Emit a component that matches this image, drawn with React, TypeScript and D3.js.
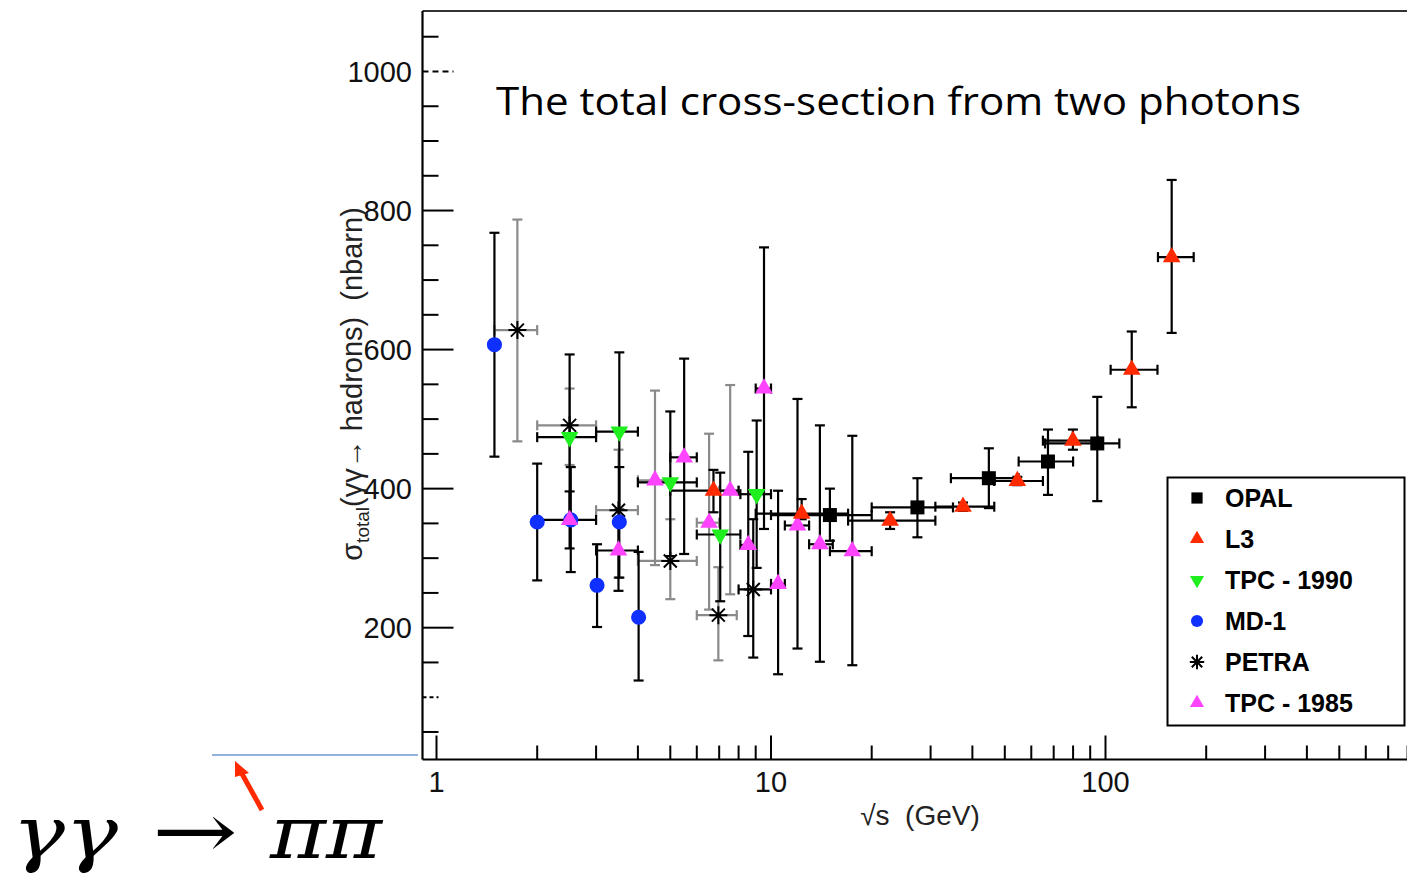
import React from "react";
import * as d3 from "d3";

// each point: [sqrt(s) GeV, sigma nb, xLo, xHi, yLo, yHi]
type Pt = [number, number, number, number, number, number];

const opal: Pt[] = [
  [15.0, 362, 10, 20, 325, 400],
  [27.4, 373, 20, 35, 330, 415],
  [44.8, 415, 34.5, 55, 372, 458],
  [67.3, 439, 55, 80, 391, 485],
  [94.5, 465, 66, 110, 382, 532],
];

const l3: Pt[] = [
  [6.73, 397, 5.0, 8.0, 366, 427],
  [12.35, 364, 9.0, 17, 356, 385],
  [22.7, 354, 17, 31, 342, 366],
  [37.5, 374, 31, 46.5, 368, 380],
  [54.5, 411, 46.5, 65, 405, 417],
  [79.9, 469, 65, 95, 456, 485],
  [119.8, 571, 103.6, 143, 517, 626],
  [157.7, 733, 143.5, 183.5, 624, 844],
];

const tpc1990: Pt[] = [
  [2.5, 474, 2.0, 3.0, 355, 593],
  [3.52, 482, 3.0, 4.0, 370, 596],
  [5.0, 409, 4.0, 6.0, 303, 511],
  [7.05, 334, 6.0, 8.1, 238, 423],
  [9.06, 392, 8.1, 10.0, 286, 498],
];

const md1: Pt[] = [
  [1.49, 607, 1.49, 1.49, 446, 768],
  [2.0, 352, 2.0, 2.0, 268, 436],
  [2.52, 355, 2.52, 2.52, 280, 431],
  [3.02, 261, 3.02, 3.02, 201, 320],
  [3.52, 352, 3.52, 3.52, 272, 431],
  [4.02, 215, 4.02, 4.02, 124, 309],
];

const petra: Pt[] = [
  [1.745, 628, 1.49, 2.0, 468, 787],
  [2.5, 491, 2.0, 3.0, 434, 544],
  [3.5, 369, 3.0, 4.0, 272, 456],
  [5.0, 296, 4.0, 6.0, 241, 356],
  [6.96, 218, 6.0, 7.9, 153, 287],
  [8.85, 255, 8.0, 10.0, 157, 356],
];

const tpc1985: Pt[] = [
  [2.5, 355, 2.0, 3.0, 314, 396],
  [3.5, 311, 3.0, 4.0, 253, 353],
  [4.5, 412, 4.0, 5.0, 290, 541],
  [5.5, 445, 5.0, 6.0, 306, 587],
  [6.53, 351, 6.0, 7.0, 226, 479],
  [7.55, 397, 7.0, 8.0, 248, 549],
  [8.55, 319, 8.1, 8.8, 188, 453],
  [9.53, 544, 9.0, 10.0, 342, 747],
  [10.5, 263, 10.0, 11.0, 133, 397],
  [12.0, 347, 11.0, 13.0, 170, 529],
  [14.0, 320, 13.0, 15.3, 151, 491],
  [17.5, 310, 15.0, 20.0, 146, 476],
];

const seriesNames = ["OPAL", "L3", "TPC - 1990", "MD-1", "PETRA", "TPC - 1985"];
const seriesData: Record<string, Pt[]> = {
  OPAL: opal,
  L3: l3,
  "TPC - 1990": tpc1990,
  "MD-1": md1,
  PETRA: petra,
  "TPC - 1985": tpc1985,
};
// points whose error bars are drawn in grey
const greyBars: Record<string, number[]> = {
  PETRA: [0, 1, 2, 3, 4],
  "TPC - 1985": [2, 4, 5],
};

const yMajorTicks = [200, 400, 600, 800, 1000];
const yMinorTicks = [50, 100, 150, 250, 300, 350, 450, 500, 550, 650, 700, 750, 850, 900, 950, 1050];
const xMajorTicks = [1, 10, 100, 1000];
const xTickLabels = ["1", "10", "100", ""]; // 1000 falls outside the cropped picture

const title = "The total cross-section from two photons";

const styles: Record<string, { color: string; shape: string }> = {
  OPAL: { color: "#000000", shape: "square" },
  L3: { color: "#ff2a00", shape: "up" },
  "TPC - 1990": { color: "#1fee1f", shape: "down" },
  "MD-1": { color: "#1030ff", shape: "circle" },
  PETRA: { color: "#000000", shape: "star" },
  "TPC - 1985": { color: "#ff44ff", shape: "up" },
};

const SANS = "'Liberation Sans', Arial, Helvetica, sans-serif";

const Marker = ({ shape, color, x, y, s = 1 }: any) => {
  if (shape === "star") {
    const a = 9 * s;
    const b = 6.5 * s;
    return (
      <path
        transform={`translate(${x},${y})`}
        d={`M${-a},0L${a},0M0,${-a}L0,${a}M${-b},${-b}L${b},${b}M${-b},${b}L${b},${-b}`}
        stroke="#000"
        strokeWidth={2}
        fill="none"
      />
    );
  }
  let type: any = d3.symbolCircle;
  let size = 180 * s * s;
  let rot = 0;
  if (shape === "square") {
    type = d3.symbolSquare;
    size = 196 * s * s;
  } else if (shape === "up" || shape === "down") {
    type = d3.symbolTriangle;
    size = 135 * s * s;
    rot = shape === "down" ? 180 : 0;
  }
  const d = d3.symbol().type(type).size(size)() as string;
  return <path transform={`translate(${x},${y}) rotate(${rot})`} d={d} fill={color} />;
};

export default function App() {
  const xScale = d3.scaleLog().domain([1, 1000]).range([436.5, 1440]);
  const yScale = d3.scaleLinear().domain([10.4, 1087]).range([759.5, 11]);
  const frameLeft = 422.5;
  const frameTop = 11;
  const frameBottom = 759.5;

  const xMinor: number[] = [];
  [1, 10, 100].forEach((dec) => {
    d3.range(2, 10).forEach((m) => xMinor.push(dec * m));
  });

  const cap = 5;
  const drawOrder = ["PETRA", "MD-1", "TPC - 1985", "TPC - 1990", "L3", "OPAL"];

  const legendTop = 498;
  const legendStep = 41;

  return (
    <svg
      width={1407}
      height={883}
      style={{ position: "absolute", left: 0, top: 0, background: "#fff" }}
      fontFamily={SANS}
    >
      <rect x={0} y={0} width={1407} height={883} fill="#fff" />

      {/* frame */}
      <line x1={frameLeft} x2={1440} y1={frameTop} y2={frameTop} stroke="#333" strokeWidth={2} />
      <line x1={frameLeft} x2={frameLeft} y1={frameTop} y2={frameBottom} stroke="#000" strokeWidth={2.2} />
      <line x1={frameLeft} x2={1440} y1={frameBottom} y2={frameBottom} stroke="#000" strokeWidth={2.2} />

      {/* y ticks */}
      {yMajorTicks.map((v) => (
        <g key={"ym" + v}>
          <line
            x1={frameLeft}
            x2={frameLeft + 31}
            y1={yScale(v)}
            y2={yScale(v)}
            stroke="#000"
            strokeWidth={2}
            strokeDasharray={v === 1000 ? "6,4" : undefined}
          />
          <text x={412} y={yScale(v) + 10.5} textAnchor="end" fontSize={29} fill="#111">
            {v}
          </text>
        </g>
      ))}
      {yMinorTicks.map((v) => (
        <line
          key={"yn" + v}
          x1={frameLeft}
          x2={frameLeft + 16}
          y1={yScale(v)}
          y2={yScale(v)}
          stroke="#000"
          strokeWidth={2}
          strokeDasharray={v === 100 ? "4,3" : undefined}
        />
      ))}

      {/* x ticks */}
      {xMajorTicks.map((v, i) => (
        <g key={"xm" + v}>
          <line x1={xScale(v)} x2={xScale(v)} y1={frameBottom} y2={frameBottom - 24} stroke="#000" strokeWidth={2} />
          {xTickLabels[i] && (
            <text x={xScale(v)} y={792} textAnchor="middle" fontSize={29} fill="#111">
              {xTickLabels[i]}
            </text>
          )}
        </g>
      ))}
      {xMinor.map((v) => (
        <line
          key={"xn" + v}
          x1={xScale(v)}
          x2={xScale(v)}
          y1={frameBottom}
          y2={frameBottom - 14}
          stroke="#000"
          strokeWidth={2}
        />
      ))}

      {/* axis titles */}
      <text x={920} y={825} textAnchor="middle" fontSize={28} fill="#222" style={{ whiteSpace: "pre" }}>
        {"√s  (GeV)"}
      </text>
      <text
        transform="translate(362,384) rotate(-90)"
        textAnchor="middle"
        fontSize={29}
        fill="#222"
        style={{ whiteSpace: "pre" }}
      >
        σ<tspan fontSize={19} dy={7}>total</tspan>
        <tspan dy={-7}>{"(γγ→ hadrons)  (nbarn)"}</tspan>
      </text>

      {/* title */}
      <text
        x={496}
        y={115}
        fontSize={39}
        fontFamily="'Open Sans', sans-serif"
        fill="#000"
        textLength={805}
        lengthAdjust="spacingAndGlyphs"
      >
        {title}
      </text>

      {/* error bars */}
      {drawOrder.map((name) =>
        seriesData[name].map((p, i) => {
          const grey = (greyBars[name] || []).includes(i);
          const col = grey ? "#8a8a8a" : "#000";
          const cx = xScale(p[0]);
          const cy = yScale(p[1]);
          const x0 = xScale(p[2]);
          const x1 = xScale(p[3]);
          const y0 = yScale(p[4]);
          const y1 = yScale(p[5]);
          return (
            <g key={name + "e" + i} stroke={col} strokeWidth={2.2}>
              {p[3] > p[2] && (
                <>
                  <line x1={x0} x2={x1} y1={cy} y2={cy} />
                  <line x1={x0} x2={x0} y1={cy - cap} y2={cy + cap} />
                  <line x1={x1} x2={x1} y1={cy - cap} y2={cy + cap} />
                </>
              )}
              <line x1={cx} x2={cx} y1={y0} y2={y1} />
              <line x1={cx - cap} x2={cx + cap} y1={y0} y2={y0} />
              <line x1={cx - cap} x2={cx + cap} y1={y1} y2={y1} />
            </g>
          );
        })
      )}

      {/* markers */}
      {drawOrder.map((name) =>
        seriesData[name].map((p, i) => (
          <Marker
            key={name + "m" + i}
            shape={styles[name].shape}
            color={styles[name].color}
            x={xScale(p[0])}
            y={yScale(p[1])}
          />
        ))
      )}

      {/* legend */}
      <rect x={1167.5} y={477.5} width={237} height={248} fill="#fff" stroke="#000" strokeWidth={2} />
      {seriesNames.map((name, i) => {
        const y = legendTop + i * legendStep;
        return (
          <g key={"lg" + name}>
            <Marker shape={styles[name].shape} color={styles[name].color} x={1197} y={y} s={0.8} />
            <text x={1225} y={y + 9} fontSize={25} fontWeight="bold" fill="#000">
              {name}
            </text>
          </g>
        );
      })}

      {/* slide annotation */}
      <line x1={212} x2={418} y1={755} y2={755} stroke="#7099cc" strokeWidth={1.5} />
      <line x1={262} x2={241} y1={810} y2={772} stroke="#ff2a00" strokeWidth={5} />
      <path d="M235,761 L249,773 L235,777 Z" fill="#ff2a00" />
      <g fontFamily="'DejaVu Serif', 'Liberation Serif', serif" fill="#000">
        <text x={12} y={858} fontSize={72} fontStyle="italic" textLength={106} lengthAdjust="spacingAndGlyphs">
          γγ
        </text>
        <text x={152} y={858} fontSize={78} textLength={86} lengthAdjust="spacingAndGlyphs">
          →
        </text>
        <text x={270} y={858} fontSize={72} fontStyle="italic" textLength={112} lengthAdjust="spacingAndGlyphs">
          ππ
        </text>
      </g>
    </svg>
  );
}
